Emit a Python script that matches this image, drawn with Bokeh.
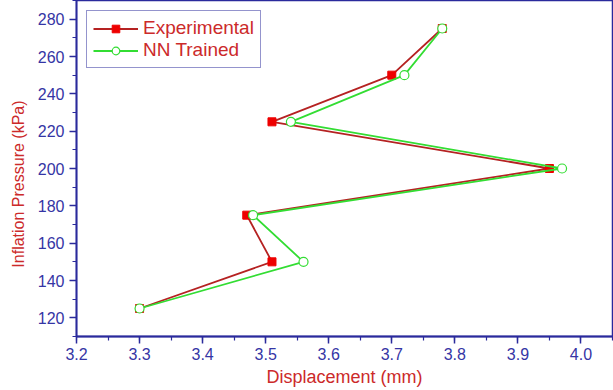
from bokeh.plotting import figure
from bokeh.models import Range1d, SingleIntervalTicker, NumeralTickFormatter, Legend, LegendItem
from bokeh.embed import file_html
from bokeh.resources import INLINE

pressure = [125, 150, 175, 200, 225, 250, 275]
disp_exp = [3.30, 3.51, 3.47, 3.95, 3.51, 3.70, 3.78]
disp_nn = [3.30, 3.56, 3.48, 3.97, 3.54, 3.72, 3.78]

AXIS_BLUE = "#2a2a9c"
TICK_BLUE = "#3535a5"
LABEL_RED = "#cc2a2a"
EXP_LINE = "#b52222"
EXP_MARK = "#ee0000"
NN_GREEN = "#33dd33"
FONT = "Liberation Sans"

p = figure(width=613, height=390, output_backend="svg", toolbar_location=None,
           x_range=Range1d(3.2, 4.05), y_range=Range1d(110, 290),
           min_border_left=76, min_border_right=1, min_border_top=0, min_border_bottom=54)
p.background_fill_color = "white"
p.border_fill_color = "white"
p.grid.visible = False
p.outline_line_color = AXIS_BLUE
p.outline_line_width = 1.5

r1 = p.line(disp_exp, pressure, line_color=EXP_LINE, line_width=1.8)
r2 = p.scatter(disp_exp, pressure, marker="square", size=8, fill_color=EXP_MARK, line_color=EXP_MARK)
r3 = p.line(disp_nn, pressure, line_color=NN_GREEN, line_width=1.8)
r4 = p.scatter(disp_nn, pressure, marker="circle", size=9, fill_color="white", line_color=NN_GREEN, line_width=1.2)

p.xaxis.ticker = SingleIntervalTicker(interval=0.1, num_minor_ticks=2)
p.yaxis.ticker = SingleIntervalTicker(interval=20, num_minor_ticks=2)
p.xaxis.formatter = NumeralTickFormatter(format="0.0")

for ax in (p.xaxis, p.yaxis):
    ax.axis_line_color = AXIS_BLUE
    ax.axis_line_width = 1.8
    ax.major_tick_line_color = AXIS_BLUE
    ax.minor_tick_line_color = AXIS_BLUE
    ax.major_tick_line_width = 1.5
    ax.minor_tick_line_width = 1.2
    ax.major_tick_in = 0
    ax.major_tick_out = 7
    ax.minor_tick_in = 0
    ax.minor_tick_out = 4
    ax.major_label_text_color = TICK_BLUE
    ax.major_label_text_font = FONT
    ax.major_label_text_font_size = "16px"
    ax.axis_label_text_color = LABEL_RED
    ax.axis_label_text_font = FONT
    ax.axis_label_text_font_style = "normal"

p.xaxis.axis_label = "Displacement (mm)"
p.xaxis.axis_label_text_font_size = "18px"
p.xaxis.major_label_standoff = 4
p.xaxis.axis_label_standoff = 4
# trailing no-break spaces shift the visible text down to match the reference
p.yaxis.axis_label = "Inflation Pressure (kPa)" + "\u00a0" * 7
p.yaxis.axis_label_text_font_size = "16px"
p.yaxis.major_label_standoff = 5
p.yaxis.axis_label_standoff = 8

legend = Legend(items=[LegendItem(label="Experimental", renderers=[r1, r2]),
                       LegendItem(label="NN Trained", renderers=[r3, r4])],
                location="top_left")
legend.border_line_color = AXIS_BLUE
legend.border_line_width = 1.2
legend.label_text_color = LABEL_RED
legend.label_text_font = FONT
legend.label_text_font_size = "19px"
legend.glyph_width = 45
legend.glyph_height = 19
legend.label_height = 19
legend.spacing = 0
legend.padding = 6
legend.margin = 10
legend.label_standoff = 5
legend.background_fill_alpha = 1
p.add_layout(legend)

open("out.html", "w").write(file_html(p, INLINE))
